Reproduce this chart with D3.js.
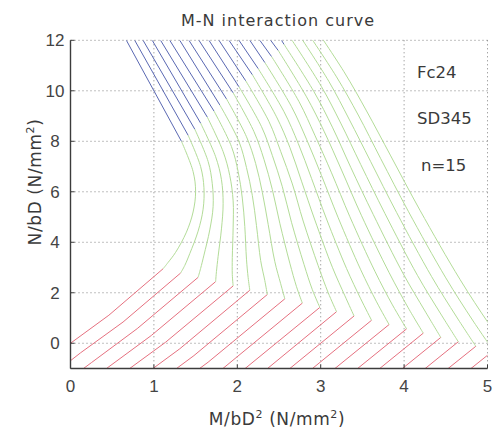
<!DOCTYPE html>
<html>
<head>
<meta charset="utf-8">
<script src="https://cdn.jsdelivr.net/npm/d3@7"></script>
<style>
  body { margin: 0; background: #fff; }
  svg { display: block; }
</style>
</head>
<body>
<div id="chart"></div>
<script>
// one curve per tension steel ratio pt (%)
var ptPercent = [0.0, 0.1, 0.2, 0.3, 0.4, 0.5, 0.6, 0.7, 0.8, 0.9, 1.0,
                 1.1, 1.2, 1.3, 1.4, 1.5, 1.6, 1.7, 1.8, 1.9, 2.0];

// tension steel governs (red): pure tension, neutral axis at edge, mid, balance point
var tensionN = [0, -0.69, -1.38, -2.07, -2.76, -3.45, -4.14, -4.83, -5.52, -6.21, -6.90,
                -7.59, -8.28, -8.97, -9.66, -10.35, -11.04, -11.73, -12.42, -13.11, -13.80];
var edgeM = [0, 0.12, 0.25, 0.37, 0.49, 0.61, 0.74, 0.86, 0.98, 1.10, 1.23,
             1.35, 1.47, 1.60, 1.72, 1.84, 1.96, 2.09, 2.21, 2.33, 2.45];
var edgeN = [0, -0.38, -0.77, -1.15, -1.53, -1.92, -2.30, -2.68, -3.07, -3.45, -3.83,
             -4.22, -4.60, -4.98, -5.37, -5.75, -6.13, -6.52, -6.90, -7.28, -7.67];
var midM = [0.46, 0.63, 0.80, 0.97, 1.14, 1.31, 1.48, 1.65, 1.82, 1.99, 2.16,
            2.33, 2.50, 2.67, 2.84, 3.01, 3.18, 3.35, 3.52, 3.69, 3.86];
var midN = [1.11, 0.84, 0.58, 0.31, 0.04, -0.22, -0.49, -0.75, -1.02, -1.28, -1.55,
            -1.81, -2.08, -2.34, -2.61, -2.87, -3.14, -3.41, -3.67, -3.94, -4.20];
var balM = [1.11, 1.32, 1.53, 1.74, 1.95, 2.15, 2.36, 2.57, 2.78, 2.99, 3.19,
            3.40, 3.61, 3.82, 4.03, 4.23, 4.44, 4.65, 4.86, 5.07, 5.28];
var balN = [2.95, 2.78, 2.61, 2.44, 2.27, 2.10, 1.93, 1.76, 1.59, 1.42, 1.25,
            1.08, 0.91, 0.74, 0.57, 0.40, 0.23, 0.06, -0.12, -0.29, -0.46];

// concrete governs (green)
var g40M = [1.17, 1.37, 1.56, 1.75, 1.94, 2.13, 2.33, 2.52, 2.71, 2.90, 3.09,
            3.29, 3.48, 3.67, 3.86, 4.05, 4.25, 4.44, 4.63, 4.82, 5.01];
var g40N = [3.20, 3.08, 2.96, 2.84, 2.72, 2.60, 2.48, 2.36, 2.24, 2.12, 2.00,
            1.88, 1.76, 1.64, 1.52, 1.40, 1.28, 1.16, 1.04, 0.92, 0.80];
var g45M = [1.26, 1.43, 1.60, 1.77, 1.94, 2.11, 2.28, 2.45, 2.63, 2.80, 2.97,
            3.14, 3.31, 3.48, 3.65, 3.82, 3.99, 4.16, 4.33, 4.50, 4.67];
var g45N = [3.60, 3.55, 3.49, 3.44, 3.39, 3.33, 3.28, 3.23, 3.17, 3.12, 3.07,
            3.01, 2.96, 2.91, 2.85, 2.80, 2.75, 2.69, 2.64, 2.59, 2.53];
var g55M = [1.39, 1.53, 1.67, 1.81, 1.95, 2.09, 2.23, 2.37, 2.51, 2.65, 2.79,
            2.93, 3.07, 3.21, 3.35, 3.49, 3.63, 3.77, 3.91, 4.05, 4.19];
var g55N = [4.40, 4.44, 4.49, 4.53, 4.57, 4.62, 4.66, 4.71, 4.75, 4.79, 4.84,
            4.88, 4.92, 4.97, 5.01, 5.05, 5.10, 5.14, 5.18, 5.23, 5.27];
var g65M = [1.47, 1.59, 1.71, 1.83, 1.95, 2.06, 2.18, 2.30, 2.42, 2.54, 2.66,
            2.77, 2.89, 3.01, 3.13, 3.25, 3.36, 3.48, 3.60, 3.72, 3.84];
var g65N = [5.20, 5.31, 5.42, 5.53, 5.64, 5.75, 5.86, 5.98, 6.09, 6.20, 6.31,
            6.42, 6.53, 6.64, 6.75, 6.86, 6.97, 7.08, 7.19, 7.31, 7.42];
var g75M = [1.50, 1.60, 1.70, 1.81, 1.91, 2.01, 2.11, 2.22, 2.32, 2.42, 2.52,
            2.63, 2.73, 2.83, 2.93, 3.04, 3.14, 3.24, 3.34, 3.45, 3.55];
var g75N = [6.00, 6.16, 6.32, 6.48, 6.64, 6.80, 6.96, 7.12, 7.28, 7.44, 7.60,
            7.76, 7.92, 8.08, 8.24, 8.40, 8.56, 8.72, 8.88, 9.04, 9.20];
var g85M = [1.47, 1.56, 1.65, 1.74, 1.83, 1.93, 2.02, 2.11, 2.20, 2.29, 2.38,
            2.47, 2.56, 2.65, 2.74, 2.83, 2.92, 3.01, 3.10, 3.19, 3.28];
var g85N = [6.80, 7.00, 7.20, 7.39, 7.59, 7.79, 7.99, 8.18, 8.38, 8.58, 8.78,
            8.97, 9.17, 9.37, 9.57, 9.76, 9.96, 10.16, 10.36, 10.55, 10.75];
var fullM = [1.33, 1.41, 1.49, 1.56, 1.64, 1.72, 1.79, 1.87, 1.95, 2.02, 2.10,
             2.18, 2.25, 2.33, 2.41, 2.49, 2.56, 2.64, 2.72, 2.79, 2.87];
var fullN = [8.00, 8.24, 8.48, 8.72, 8.96, 9.20, 9.44, 9.68, 9.92, 10.16, 10.40,
             10.64, 10.88, 11.12, 11.36, 11.60, 11.84, 12.08, 12.32, 12.56, 12.80];

// whole section in compression (blue): M where each line reaches N/bD = 12
var blueTopM = [0.67, 0.77, 0.87, 0.98, 1.08, 1.19, 1.31, 1.42, 1.54, 1.66, 1.78,
                1.90, 2.02, 2.15, 2.27, 2.40, 2.53, null, null, null, null];

var xTicks = [0, 1, 2, 3, 4, 5];
var yTicks = [0, 2, 4, 6, 8, 10, 12];
var notes = ["Fc24", "SD345", "n=15"];

// Margins and canvas
var margin = { top: 40.3, right: 5.5, bottom: 62.5, left: 70.5 },
    width = 493 - margin.left - margin.right,
    height = 431 - margin.top - margin.bottom;

var x = d3.scaleLinear().domain([0, 5]).range([0, width]),
    y = d3.scaleLinear().domain([-1, 12]).range([height, 0]);

var svg = d3.select("#chart").append("svg")
    .attr("width", 493)
    .attr("height", 431)
    .append("g")
    .attr("transform", "translate(" + margin.left + "," + margin.top + ")");

svg.append("clipPath").attr("id", "plotclip")
    .append("rect").attr("width", width).attr("height", height);

// grid
svg.selectAll(".gx").data(xTicks.slice(1)).enter().append("line")
    .attr("x1", function(d) { return x(d); }).attr("x2", function(d) { return x(d); })
    .attr("y1", 0).attr("y2", height)
    .attr("stroke", "#808080").attr("stroke-dasharray", "1,3");
svg.selectAll(".gy").data(yTicks).enter().append("line")
    .attr("x1", 0).attr("x2", width)
    .attr("y1", function(d) { return y(d); }).attr("y2", function(d) { return y(d); })
    .attr("stroke", "#808080").attr("stroke-dasharray", "1,3");

// curves
var idx = d3.range(ptPercent.length);
var straight = d3.line().x(function(d) { return x(d[0]); }).y(function(d) { return y(d[1]); });
var smooth = d3.line().x(function(d) { return x(d[0]); }).y(function(d) { return y(d[1]); })
    .curve(d3.curveCatmullRom.alpha(0.5));

var curves = svg.append("g").attr("clip-path", "url(#plotclip)").attr("fill", "none");

curves.selectAll(".red").data(idx).enter().append("path")
    .attr("stroke", "#e5707f").attr("stroke-width", 1)
    .attr("d", function(i) {
        return straight([[0, tensionN[i]], [edgeM[i], edgeN[i]], [midM[i], midN[i]], [balM[i], balN[i]]]);
    });

curves.selectAll(".green").data(idx).enter().append("path")
    .attr("stroke", "#b3dc98").attr("stroke-width", 1)
    .attr("d", function(i) {
        return smooth([[balM[i], balN[i]], [g40M[i], g40N[i]], [g45M[i], g45N[i]], [g55M[i], g55N[i]],
                       [g65M[i], g65N[i]], [g75M[i], g75N[i]], [g85M[i], g85N[i]], [fullM[i], fullN[i]]]);
    });

curves.selectAll(".blue").data(idx.filter(function(i) { return blueTopM[i] != null; })).enter().append("path")
    .attr("stroke", "#5a68b2").attr("stroke-width", 1)
    .attr("d", function(i) { return straight([[fullM[i], fullN[i]], [blueTopM[i], 12]]); });

// axes (left and bottom only, ticks inward)
svg.append("line").attr("x1", 0).attr("x2", 0).attr("y1", 0).attr("y2", height)
    .attr("stroke", "#3c3c3c").attr("stroke-width", 1.4);
svg.append("line").attr("x1", 0).attr("x2", width).attr("y1", height).attr("y2", height)
    .attr("stroke", "#3c3c3c").attr("stroke-width", 1.4);
svg.selectAll(".tx").data(xTicks).enter().append("line")
    .attr("x1", function(d) { return x(d); }).attr("x2", function(d) { return x(d); })
    .attr("y1", height).attr("y2", height - 4).attr("stroke", "#3c3c3c");
svg.selectAll(".ty").data(yTicks).enter().append("line")
    .attr("x1", 0).attr("x2", 4)
    .attr("y1", function(d) { return y(d); }).attr("y2", function(d) { return y(d); })
    .attr("stroke", "#3c3c3c");

// tick labels
svg.selectAll(".lx").data(xTicks).enter().append("text")
    .attr("x", function(d) { return x(d); }).attr("y", height + 24)
    .attr("text-anchor", "middle")
    .style("font-family", "Liberation Sans, Arial, sans-serif").style("font-size", "17px")
    .style("fill", "#444")
    .text(function(d) { return d; });
svg.selectAll(".ly").data(yTicks).enter().append("text")
    .attr("x", -15.5).attr("y", function(d) { return y(d) + 6; })
    .attr("text-anchor", "middle")
    .style("font-family", "Liberation Sans, Arial, sans-serif").style("font-size", "17px")
    .style("fill", "#444")
    .text(function(d) { return d; });

// Chart title
svg.append("text")
    .attr("x", 278 - margin.left).attr("y", 26 - margin.top)
    .attr("text-anchor", "middle")
    .style("font-family", "DejaVu Sans, sans-serif").style("font-size", "16px")
    .style("letter-spacing", "1px").style("fill", "#3a3a3a")
    .text("M-N interaction curve");

// axis titles
var xt = svg.append("text")
    .attr("x", 277 - margin.left).attr("y", 425 - margin.top)
    .attr("text-anchor", "middle")
    .style("font-family", "DejaVu Sans, sans-serif").style("font-size", "17px")
    .style("letter-spacing", "0.6px").style("fill", "#3a3a3a");
xt.append("tspan").text("M/bD");
xt.append("tspan").attr("dy", -7).style("font-size", "11px").text("2");
xt.append("tspan").attr("dy", 7).text(" (N/mm");
xt.append("tspan").attr("dy", -7).style("font-size", "11px").text("2");
xt.append("tspan").attr("dy", 7).text(")");

var yt = svg.append("text")
    .attr("transform", "translate(" + (41 - margin.left) + "," + (182 - margin.top) + ")rotate(-90)")
    .attr("text-anchor", "middle")
    .style("font-family", "DejaVu Sans, sans-serif").style("font-size", "17px")
    .style("letter-spacing", "0.6px").style("fill", "#3a3a3a");
yt.append("tspan").text("N/bD (N/mm");
yt.append("tspan").attr("dy", -7).style("font-size", "11px").text("2");
yt.append("tspan").attr("dy", 7).text(")");

// material notes
svg.selectAll(".note").data(notes).enter().append("text")
    .attr("x", function(d, i) { return (i == 2 ? 421 : 417) - margin.left; })
    .attr("y", function(d, i) { return [78, 124, 171][i] - margin.top; })
    .style("font-family", "DejaVu Sans, sans-serif").style("font-size", "16.5px")
    .style("fill", "#3a3a3a")
    .text(function(d) { return d; });
</script>
</body>
</html>
